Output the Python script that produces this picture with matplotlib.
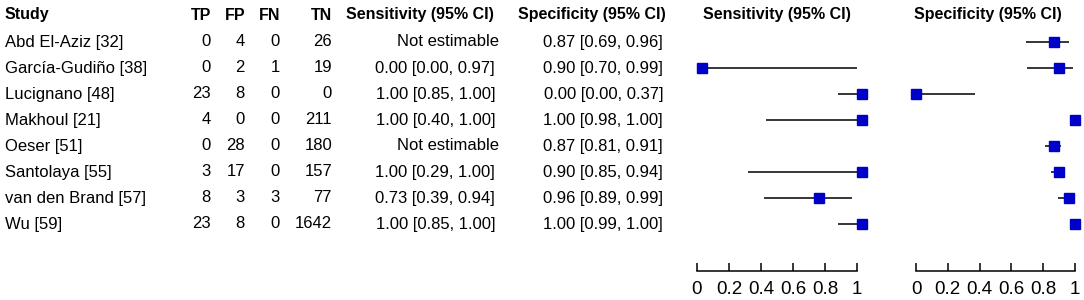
import matplotlib
matplotlib.use("Agg")
import matplotlib.pyplot as plt
from matplotlib import font_manager

names = {f.name for f in font_manager.fontManager.ttflist}
FAM = ['Liberation Sans Narrow', 'DejaVu Sans'] if 'Liberation Sans Narrow' in names else ['Liberation Sans', 'DejaVu Sans']
plt.rcParams['font.family'] = FAM

studies = ["Abd El-Aziz [32]", "García-Gudiño [38]", "Lucignano [48]", "Makhoul [21]",
           "Oeser [51]", "Santolaya [55]", "van den Brand [57]", "Wu [59]"]
TP = [0, 0, 23, 4, 0, 3, 8, 23]
FP = [4, 2, 8, 0, 28, 17, 3, 8]
FN = [0, 1, 0, 0, 0, 0, 3, 0]
TN = [26, 19, 0, 211, 180, 157, 77, 1642]
sens = [None, 0.00, 1.00, 1.00, None, 1.00, 0.73, 1.00]
sens_lo = [None, 0.00, 0.85, 0.40, None, 0.29, 0.39, 0.85]
sens_hi = [None, 0.97, 1.00, 1.00, None, 1.00, 0.94, 1.00]
spec = [0.87, 0.90, 0.00, 1.00, 0.87, 0.90, 0.96, 1.00]
spec_lo = [0.69, 0.70, 0.00, 0.98, 0.81, 0.85, 0.89, 0.99]
spec_hi = [0.96, 0.99, 0.37, 1.00, 0.91, 0.94, 0.99, 1.00]
ticks = [0, 0.2, 0.4, 0.6, 0.8, 1]
tick_labels = ["0", "0.2", "0.4", "0.6", "0.8", "1"]

W, H = 1084, 300
fig = plt.figure(figsize=(W / 100, H / 100), dpi=100)

FS = 12
FSH = 11.5
ROW0, DY, HEAD_Y = 42, 26, 15
rows = [ROW0 + DY * i for i in range(len(studies))]

# text layer in pixel coords
tx = fig.add_axes([0, 0, 1, 1])
tx.set_xlim(0, W)
tx.set_ylim(H, 0)
tx.axis('off')

def fmt_ci(v, lo, hi):
    if v is None:
        return "Not estimable"
    return f"{v:.2f} [{lo:.2f}, {hi:.2f}]"

hdr = dict(fontsize=FSH, fontweight='bold', va='center')
tx.text(5, HEAD_Y, "Study", ha='left', **hdr)
cols_x = [211, 245, 280, 332]
for x, h in zip(cols_x, ["TP", "FP", "FN", "TN"]):
    tx.text(x, HEAD_Y, h, ha='right', **hdr)
tx.text(494, HEAD_Y, "Sensitivity (95% CI)", ha='right', **hdr)
tx.text(666, HEAD_Y, "Specificity (95% CI)", ha='right', **hdr)
tx.text(703, HEAD_Y, "Sensitivity (95% CI)", ha='left', **hdr)
tx.text(914, HEAD_Y, "Specificity (95% CI)", ha='left', **hdr)

for i, y in enumerate(rows):
    tx.text(5, y, studies[i], ha='left', va='center', fontsize=FS)
    for x, arr in zip(cols_x, [TP, FP, FN, TN]):
        tx.text(x, y, str(arr[i]), ha='right', va='center', fontsize=FS)
    s_txt = fmt_ci(sens[i], sens_lo[i], sens_hi[i])
    tx.text(499 if sens[i] is None else 495, y, s_txt, ha='right', va='center', fontsize=FS)
    tx.text(663, y, fmt_ci(spec[i], spec_lo[i], spec_hi[i]), ha='right', va='center', fontsize=FS)

AX_BOT = 271
BLUE = '#0000C8'

def forest_axes(x0, x1):
    ax = fig.add_axes([x0 / W, (H - AX_BOT) / H, (x1 - x0) / W, AX_BOT / H])
    ax.set_xlim(0, 1)
    ax.set_ylim(AX_BOT, 0)
    ax.patch.set_alpha(0)
    for s in ['top', 'right', 'left', 'bottom']:
        ax.spines[s].set_visible(False)
    ax.set_yticks([])
    ax.set_xticks([])
    return ax

def scale_axes(x0, x1):
    ax = forest_axes(x0, x1)
    ax.spines['bottom'].set_visible(True)
    ax.spines['bottom'].set_linewidth(1.1)
    ax.set_xticks(ticks)
    ax.set_xticklabels(tick_labels, fontsize=13.5)
    ax.tick_params(axis='x', direction='in', length=6, width=1.1, pad=7)
    return ax

def draw(ax, v, lo, hi):
    for i, y in enumerate(rows):
        if v[i] is None:
            continue
        ax.plot([lo[i], hi[i]], [y, y], color='black', lw=1.1, clip_on=False, solid_capstyle='butt')
        ax.plot([v[i]], [y], marker='s', ms=7.5, color=BLUE, mec=BLUE, clip_on=False, ls='none')

# sensitivity
scale_axes(697, 857)
ax_s = forest_axes(702, 862)
draw(ax_s, sens, sens_lo, sens_hi)

# specificity
ax_p = scale_axes(916, 1075)
draw(ax_p, spec, spec_lo, spec_hi)

fig.savefig("out.png", dpi=100)
